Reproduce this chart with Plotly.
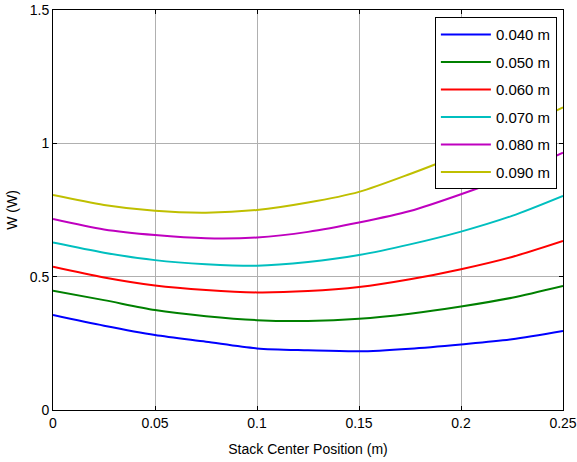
import plotly.graph_objects as go

x_pos = [0.0, 0.025, 0.05, 0.075, 0.1, 0.125, 0.15, 0.175, 0.2, 0.225, 0.25]

w_040 = [0.356, 0.316, 0.281, 0.256, 0.231, 0.224, 0.220, 0.230, 0.246, 0.265, 0.296]
w_050 = [0.447, 0.412, 0.375, 0.352, 0.337, 0.334, 0.342, 0.361, 0.388, 0.421, 0.465]
w_060 = [0.537, 0.497, 0.467, 0.450, 0.441, 0.446, 0.461, 0.490, 0.528, 0.574, 0.634]
w_070 = [0.628, 0.590, 0.562, 0.547, 0.541, 0.555, 0.581, 0.621, 0.669, 0.728, 0.803]
w_080 = [0.716, 0.677, 0.656, 0.644, 0.647, 0.668, 0.703, 0.746, 0.809, 0.880, 0.965]
w_090 = [0.806, 0.769, 0.747, 0.740, 0.750, 0.778, 0.818, 0.885, 0.960, 1.045, 1.135]

series_names = ["0.040 m", "0.050 m", "0.060 m", "0.070 m", "0.080 m", "0.090 m"]
series_vals = [w_040, w_050, w_060, w_070, w_080, w_090]
colors = ["#0000ff", "#008000", "#ff0000", "#00bfbf", "#bf00bf", "#bfbf00"]

x_ticks = [0, 0.05, 0.1, 0.15, 0.2, 0.25]
x_ticktext = ["0", "0.05", "0.1", "0.15", "0.2", "0.25"]
y_ticks = [0, 0.5, 1, 1.5]
y_ticktext = ["0", "0.5", "1", "1.5"]

fig = go.Figure()
for i, (name, vals, c) in enumerate(zip(series_names, series_vals, colors)):
    fig.add_trace(go.Scatter(
        x=x_pos, y=vals, mode="lines", name=name,
        line=dict(color=c, width=2, shape="spline", smoothing=0.8),
        legendgroup=f"g{i}",
    ))

font = "Liberation Sans, Arial, sans-serif"
fig.update_layout(
    width=577, height=462,
    margin=dict(l=53, r=14, t=10, b=52, autoexpand=False),
    paper_bgcolor="white", plot_bgcolor="white",
    font=dict(family=font, size=14, color="black"),
    showlegend=True,
    legend=dict(
        x=0.988, y=0.982, xanchor="right", yanchor="top",
        bgcolor="white", bordercolor="black", borderwidth=1,
        font=dict(family=font, size=15, color="black"),
        traceorder="grouped", tracegroupgap=5,
        itemwidth=50,
    ),
    xaxis=dict(
        range=[0, 0.25], tickvals=x_ticks, ticktext=x_ticktext,
        showgrid=True, gridcolor="#b0b0b0", gridwidth=1,
        showline=True, linecolor="black", linewidth=1, mirror="ticks",
        ticks="inside", ticklen=4, tickcolor="black",
        zeroline=False, automargin=False,
        tickfont=dict(size=14),
        title=dict(text="Stack Center Position (m)", font=dict(size=14), standoff=14),
    ),
    yaxis=dict(
        range=[0, 1.5], tickvals=y_ticks, ticktext=y_ticktext,
        showgrid=True, gridcolor="#b0b0b0", gridwidth=1,
        showline=True, linecolor="black", linewidth=1, mirror="ticks",
        ticks="inside", ticklen=4, tickcolor="black",
        zeroline=False, automargin=False,
        tickfont=dict(size=14),
        title=dict(text="W (W)", font=dict(size=14), standoff=8),
    ),
)

fig.write_html("out.html")
